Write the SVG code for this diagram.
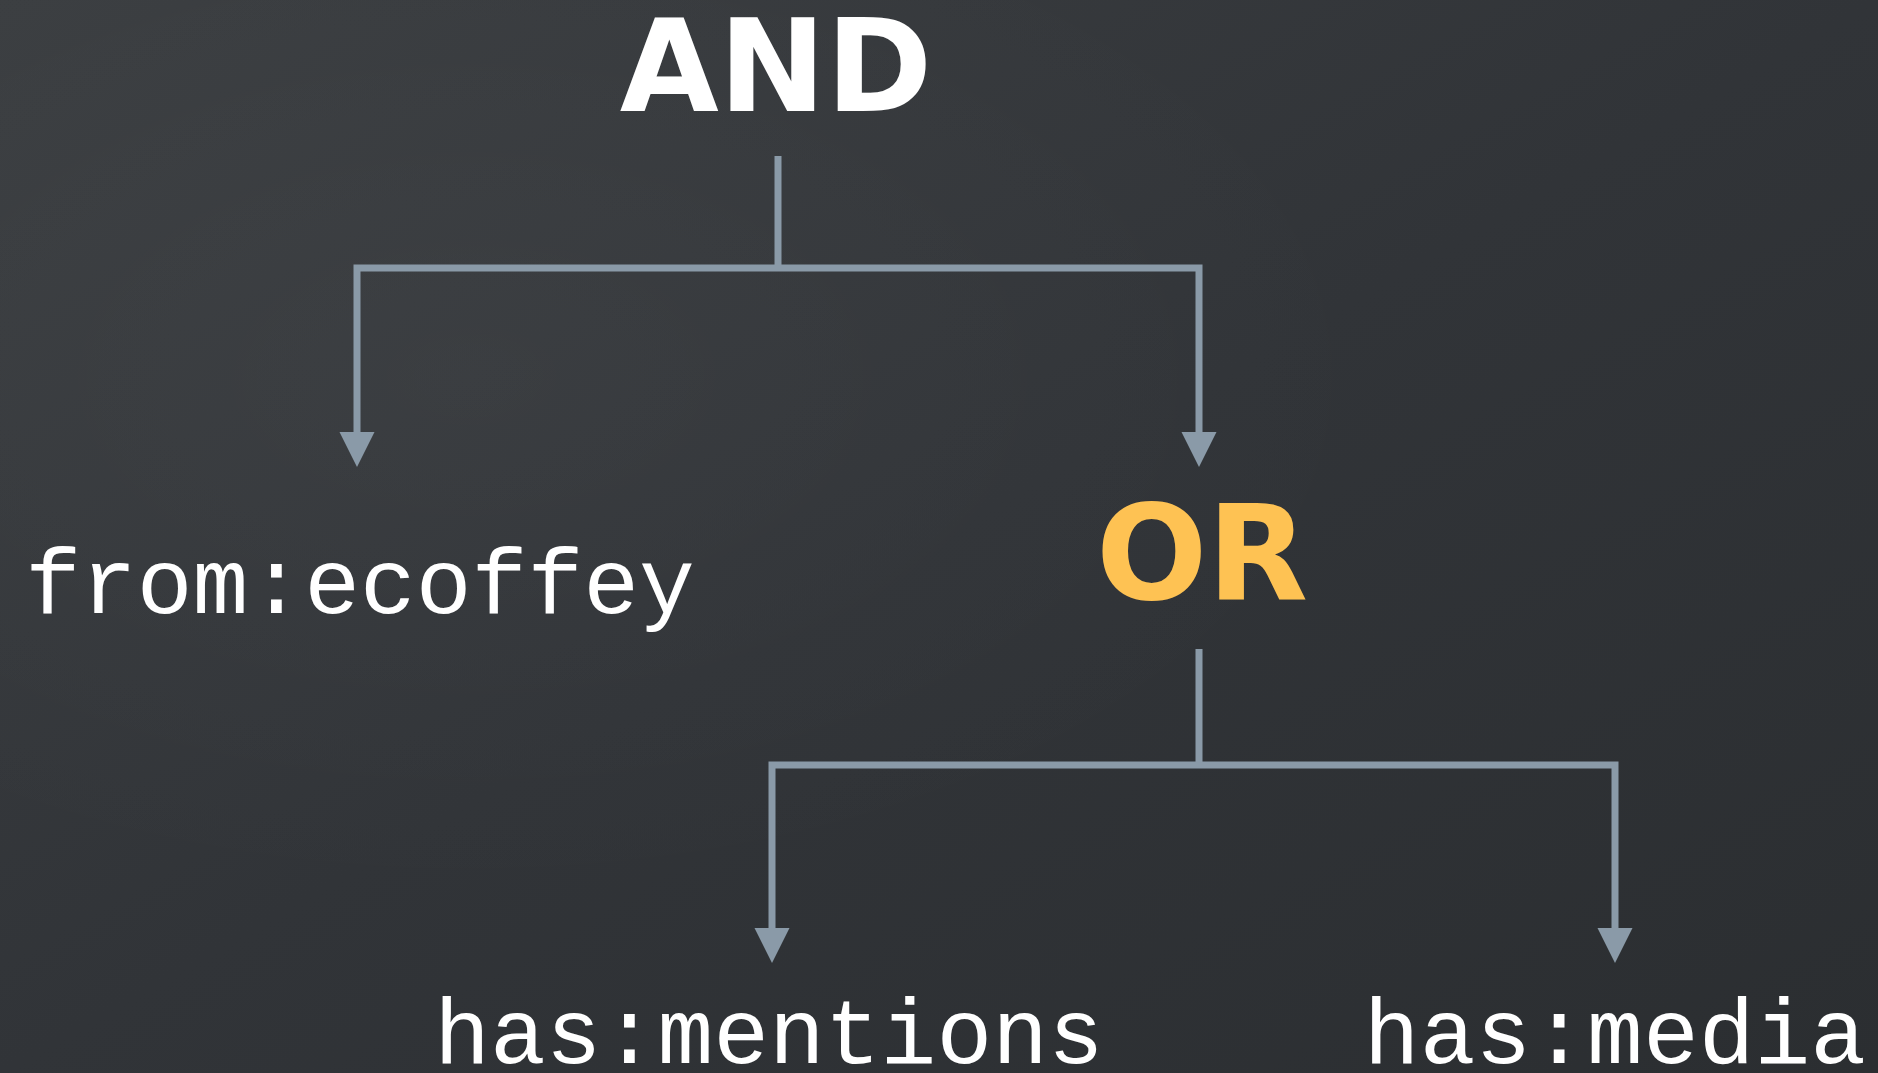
<svg xmlns="http://www.w3.org/2000/svg" width="1878" height="1073" viewBox="0 0 1878 1073">
  <defs>
    <linearGradient id="bg" x1="0" y1="0" x2="1" y2="1">
      <stop offset="0" stop-color="#3b3e41"/>
      <stop offset="0.5" stop-color="#313438"/>
      <stop offset="1" stop-color="#2b2e31"/>
    </linearGradient>
    <radialGradient id="glow" cx="0.25" cy="0.35" r="0.5">
      <stop offset="0" stop-color="#ffffff" stop-opacity="0.03"/>
      <stop offset="1" stop-color="#ffffff" stop-opacity="0"/>
    </radialGradient>
    <style>
      .conn { fill: none; stroke: #8a9aa8; stroke-width: 7; stroke-linejoin: miter; stroke-linecap: butt; }
      .head { fill: #8a9aa8; }
      .op { font-family: "DejaVu Sans", "Liberation Sans", sans-serif; font-weight: bold; text-anchor: middle; }
      .term { font-family: "Courier New", "Liberation Mono", monospace; fill: #ffffff; text-anchor: middle; font-size: 93px; }
    </style>
  </defs>
  <rect width="1878" height="1073" fill="url(#bg)"/>
  <rect width="1878" height="1073" fill="url(#glow)"/>

  <g id="connectors">
    <path class="conn" d="M778,156 V268"/>
    <path class="conn" d="M357,432 V268 H1199 V432"/>
    <polygon class="head" points="339.5,432 374.5,432 357,467"/>
    <polygon class="head" points="1181.5,432 1216.5,432 1199,467"/>
    <path class="conn" d="M1199,649 V765"/>
    <path class="conn" d="M772,928 V765 H1615 V928"/>
    <polygon class="head" points="754.5,928 789.5,928 772,963"/>
    <polygon class="head" points="1597.5,928 1632.5,928 1615,963"/>
  </g>

  <g id="node-and">
    <text class="op" x="776" y="111" font-size="128" fill="#ffffff">AND</text>
  </g>
  <g id="node-or">
    <text class="op" x="1202" y="599" font-size="131" fill="#fec253">OR</text>
  </g>
  <g id="node-from">
    <text class="term" x="360" y="613">from:ecoffey</text>
  </g>
  <g id="node-mentions">
    <text class="term" x="769" y="1063">has:mentions</text>
  </g>
  <g id="node-media">
    <text class="term" x="1615" y="1063">has:media</text>
  </g>
</svg>
